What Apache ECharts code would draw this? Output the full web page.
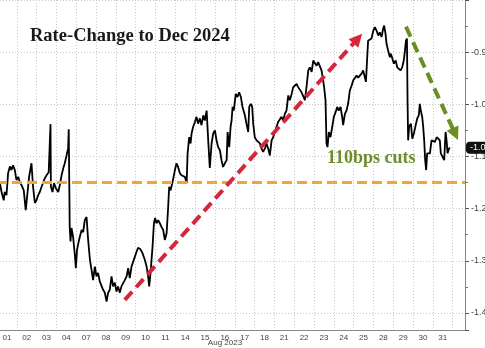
<!DOCTYPE html>
<html>
<head>
<meta charset="utf-8">
<script src="https://cdn.jsdelivr.net/npm/echarts@6/dist/echarts.min.js"></script>
<style>
html,body{margin:0;padding:0;background:#fff;}
#chart{width:485px;height:348px;}
</style>
</head>
<body>
<div id="chart"></div>
<script>
// Trading days of Aug 2023 (x positions: day i spans [i, i+1])
const dayLabels = ['01','02','03','04','07','08','09','10','11','14','15','16','17','18','21','22','23','24','25','28','29','30','31'];

// Time position (in trading-day units) of each observation
const times = [0.14,0.23,0.34,0.39,0.48,0.56,0.65,0.73,0.81,0.90,0.98,1.07,1.15,1.24,1.35,1.45,1.52,1.62,1.74,1.82,1.91,1.99,2.08,2.16,2.25,2.33,2.41,2.50,2.61,2.70,2.72,2.80,2.88,2.97,3.09,3.17,3.26,3.34,3.42,3.51,3.59,3.62,3.67,3.71,3.76,3.84,3.92,3.98,4.04,4.14,4.27,4.35,4.43,4.52,4.60,4.69,4.77,4.85,4.94,5.02,5.10,5.19,5.28,5.36,5.44,5.53,5.61,5.69,5.78,5.86,5.95,6.03,6.11,6.20,6.28,6.37,6.45,6.54,6.62,6.70,6.79,6.87,6.96,7.04,7.12,7.24,7.34,7.46,7.55,7.63,7.68,7.75,7.85,7.92,7.98,8.05,8.13,8.22,8.30,8.39,8.47,8.56,8.64,8.69,8.76,8.86,8.98,9.06,9.14,9.23,9.31,9.39,9.48,9.57,9.62,9.70,9.77,9.82,9.90,9.99,10.07,10.15,10.24,10.32,10.41,10.49,10.58,10.66,10.74,10.83,10.91,11.00,11.08,11.16,11.25,11.33,11.41,11.50,11.59,11.64,11.72,11.79,11.84,11.89,11.95,12.05,12.14,12.22,12.31,12.39,12.51,12.59,12.68,12.73,12.81,12.88,12.93,13.01,13.10,13.18,13.27,13.35,13.43,13.52,13.60,13.69,13.77,13.86,13.94,14.02,14.11,14.19,14.28,14.36,14.44,14.53,14.61,14.70,14.78,14.87,14.95,15.03,15.12,15.20,15.29,15.37,15.45,15.54,15.62,15.71,15.79,15.88,15.96,16.04,16.13,16.21,16.29,16.38,16.46,16.51,16.58,16.63,16.68,16.75,16.83,16.92,17.00,17.09,17.17,17.25,17.34,17.42,17.47,17.56,17.64,17.72,17.81,17.90,17.98,18.06,18.15,18.23,18.31,18.40,18.48,18.57,18.62,18.68,18.73,18.82,18.90,18.99,19.07,19.16,19.24,19.32,19.41,19.49,19.54,19.61,19.66,19.74,19.83,19.88,19.96,20.03,20.12,20.20,20.28,20.37,20.45,20.53,20.59,20.64,20.69,20.72,20.75,20.80,20.89,20.96,21.04,21.13,21.21,21.29,21.34,21.39,21.46,21.51,21.56,21.61,21.66,21.71,21.76,21.85,21.93,22.01,22.10,22.19,22.27,22.35,22.40,22.49,22.57,22.64,22.69,22.74,22.81,22.86];

// Implied rate change to Dec 2024 (percentage points)
const rates = [-1.149,-1.168,-1.184,-1.168,-1.174,-1.132,-1.119,-1.126,-1.117,-1.126,-1.145,-1.139,-1.149,-1.155,-1.165,-1.203,-1.177,-1.139,-1.113,-1.158,-1.189,-1.184,-1.174,-1.168,-1.158,-1.155,-1.142,-1.136,-1.130,-1.038,-1.158,-1.168,-1.151,-1.161,-1.168,-1.155,-1.136,-1.123,-1.113,-1.098,-1.084,-1.048,-1.235,-1.263,-1.237,-1.254,-1.285,-1.314,-1.279,-1.260,-1.241,-1.245,-1.222,-1.216,-1.260,-1.298,-1.317,-1.337,-1.311,-1.330,-1.323,-1.340,-1.337,-1.356,-1.361,-1.378,-1.361,-1.356,-1.330,-1.349,-1.342,-1.359,-1.349,-1.361,-1.349,-1.352,-1.337,-1.330,-1.314,-1.333,-1.311,-1.302,-1.292,-1.283,-1.275,-1.278,-1.285,-1.298,-1.311,-1.330,-1.349,-1.323,-1.273,-1.228,-1.218,-1.228,-1.222,-1.228,-1.235,-1.241,-1.260,-1.247,-1.196,-1.158,-1.165,-1.149,-1.126,-1.113,-1.120,-1.132,-1.136,-1.139,-1.139,-1.151,-1.094,-1.063,-1.075,-1.056,-1.043,-1.034,-1.024,-1.037,-1.027,-1.040,-1.021,-1.031,-1.012,-1.069,-1.122,-1.075,-1.056,-1.050,-1.069,-1.082,-1.088,-1.107,-1.120,-1.113,-1.107,-1.053,-1.082,-1.043,-1.031,-1.005,-1.012,-0.980,-0.986,-0.977,-0.986,-1.005,-1.021,-1.037,-1.053,-1.005,-0.999,-1.005,-1.037,-1.063,-1.069,-1.072,-1.075,-1.085,-1.091,-1.085,-1.075,-1.085,-1.098,-1.069,-1.063,-1.053,-1.043,-1.034,-1.037,-1.024,-1.031,-1.018,-1.012,-0.983,-0.992,-0.980,-0.967,-0.964,-0.961,-0.967,-0.970,-0.977,-0.980,-0.992,-0.967,-0.935,-0.929,-0.938,-0.916,-0.919,-0.926,-0.919,-0.922,-0.935,-0.954,-0.967,-0.992,-1.075,-1.082,-1.053,-1.063,-1.043,-1.024,-1.015,-1.005,-1.012,-1.005,-1.024,-1.040,-1.018,-1.012,-0.999,-0.973,-0.964,-0.954,-0.951,-0.945,-0.949,-0.945,-0.941,-0.935,-0.938,-0.957,-0.913,-0.878,-0.881,-0.874,-0.859,-0.852,-0.859,-0.868,-0.862,-0.871,-0.855,-0.849,-0.865,-0.884,-0.897,-0.910,-0.903,-0.913,-0.922,-0.916,-0.929,-0.926,-0.935,-0.929,-0.916,-0.897,-0.878,-0.874,-0.992,-1.069,-1.043,-1.037,-1.066,-1.056,-1.040,-1.027,-1.021,-0.999,-1.012,-1.024,-1.043,-1.069,-1.107,-1.126,-1.094,-1.091,-1.094,-1.069,-1.066,-1.072,-1.063,-1.066,-1.069,-1.094,-1.091,-1.107,-1.053,-1.069,-1.094,-1.085,-1.083];

// Reference level and annotation arrows (data coordinates)
const refLevel = -1.149;
const redArrow = [[6.45, -1.375], [18.21, -0.874]];
const greenArrow = [[20.64, -0.851], [23.13, -1.057]];

const xMin = 0, xMax = 23.62;
const yMin = -1.4326, yMax = -0.8;

const seriesData = times.map((t, i) => [t, rates[i]]);
const lastVal = rates[rates.length - 1];

const chart = echarts.init(document.getElementById('chart'), null, {renderer: 'canvas'});
chart.setOption({
  animation: false,
  backgroundColor: '#ffffff',
  title: [
    {
      text: 'Rate-Change to Dec 2024',
      left: 30, top: 27, padding: 0,
      textStyle: {fontFamily: 'Liberation Serif', fontWeight: 'bold', fontSize: 18.5, color: '#1a1a1a'}
    },
    {
      text: '110bps cuts',
      left: 327, top: 149, padding: 0,
      textStyle: {fontFamily: 'Liberation Serif', fontWeight: 'bold', fontSize: 18, color: '#6b8e2a'}
    },
    {
      text: 'Aug 2023',
      left: 225, top: 339, textAlign: 'center', padding: 0,
      textStyle: {fontFamily: 'Liberation Sans', fontWeight: 'normal', fontSize: 8, color: '#444'}
    }
  ],
  grid: {left: -3, right: 20, top: 0, bottom: 18, containLabel: false, outerBoundsMode: 'none'},
  xAxis: [
    {
      type: 'value', min: xMin, max: xMax, interval: 1, position: 'bottom',
      axisLine: {show: true, onZero: false, lineStyle: {color: '#888', width: 1}},
      axisTick: {show: false},
      axisLabel: {show: false},
      splitLine: {show: true, lineStyle: {color: '#c8c8c8', type: [1, 2], width: 1}}
    },
    {
      type: 'value', min: xMin, max: xMax, interval: 0.5, position: 'bottom', offset: 0,
      axisLine: {show: false, onZero: false},
      axisTick: {show: false},
      splitLine: {show: false},
      axisLabel: {
        show: true, margin: 4, fontSize: 8, color: '#444', fontFamily: 'Liberation Sans',
        showMinLabel: true, showMaxLabel: true, hideOverlap: false,
        formatter: function (v) {
          const f = v - Math.floor(v);
          if (Math.abs(f - 0.5) < 1e-6) { return dayLabels[Math.floor(v)] || ''; }
          return '';
        }
      }
    }
  ],
  yAxis: {
    type: 'value', position: 'right', min: yMin, max: yMax, splitNumber: 5,
    axisLine: {show: true, onZero: false, lineStyle: {color: '#888', width: 1}},
    axisTick: {show: true, length: 4, lineStyle: {color: '#555'}},
    minorTick: {show: true, splitNumber: 2, length: 3, lineStyle: {color: '#777'}},
    axisLabel: {
      margin: 6, fontSize: 9, color: '#444', fontFamily: 'Liberation Sans',
      showMinLabel: false, showMaxLabel: false,
      formatter: function (v) {
        if (Math.abs(v * 10 - Math.round(v * 10)) > 1e-6) return '';
        return v.toFixed(2);
      }
    },
    splitLine: {show: true, lineStyle: {color: '#c8c8c8', type: [1, 2], width: 1}}
  },
  series: [
    {
      type: 'line', xAxisIndex: 0, yAxisIndex: 0,
      data: seriesData, symbol: 'none', smooth: false,
      lineStyle: {color: '#000', width: 1.8},
      z: 3,
      endLabel: {
        show: true, distance: 16, formatter: lastVal.toFixed(2),
        color: '#fff', backgroundColor: '#111', borderRadius: 4, padding: [2, 4, 1, 4],
        fontSize: 9, fontFamily: 'Liberation Sans'
      },
      markLine: {
        silent: true, symbol: ['none', 'none'], animation: false,
        label: {show: false},
        data: [
          {yAxis: refLevel, lineStyle: {color: '#f2a33a', width: 3, type: [10, 5]}, label: {show: false}}
        ]
      }
    },
    {
      type: 'line', xAxisIndex: 0, yAxisIndex: 0, data: [], z: 4,
      markLine: {
        silent: true, animation: false,
        symbol: ['none', 'triangle'], symbolSize: [13, 13],
        label: {show: false},
        data: [
          [
            {coord: redArrow[0], lineStyle: {color: '#d4283a', width: 4, type: [11, 6]}},
            {coord: redArrow[1]}
          ],
          [
            {coord: greenArrow[0], lineStyle: {color: '#6b8e23', width: 4, type: [11, 6]}},
            {coord: greenArrow[1]}
          ]
        ]
      }
    }
  ]
});
</script>
</body>
</html>
